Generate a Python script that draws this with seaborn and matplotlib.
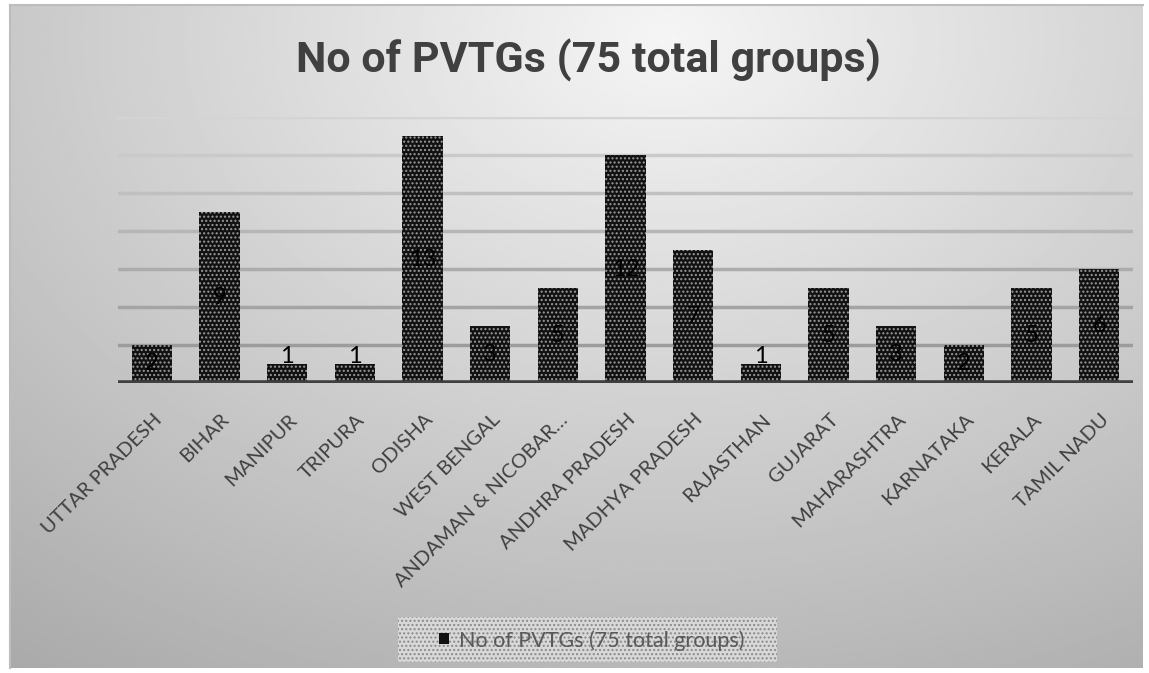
import numpy as np
import pandas as pd
import matplotlib.pyplot as plt
import matplotlib.transforms as mtransforms
import seaborn as sns

# datos
states = ["UTTAR PRADESH", "BIHAR", "MANIPUR", "TRIPURA", "ODISHA", "WEST BENGAL",
          "ANDAMAN & NICOBAR…", "ANDHRA PRADESH", "MADHYA PRADESH", "RAJASTHAN",
          "GUJARAT", "MAHARASHTRA", "KARNATAKA", "KERALA", "TAMIL NADU"]
pvtgs = [2, 9, 1, 1, 13, 3, 5, 12, 7, 1, 5, 3, 2, 5, 6]
series_name = "No of PVTGs (75 total groups)"

df = pd.DataFrame({"state": states, "n": pvtgs})

sns.set_theme(style="white")
plt.rcParams["font.family"] = ["Lato", "DejaVu Sans"]
plt.rcParams["hatch.linewidth"] = 1.0

W, H = 1149, 673
fig = plt.figure(figsize=(W / 100, H / 100), dpi=100)
fig.patch.set_facecolor("white")

# fondo degradado
bg = fig.add_axes([10 / W, 1 - 668 / H, (1143 - 10) / W, (668 - 5) / H])
xx, yy = np.meshgrid(np.linspace(0, 1, 400), np.linspace(0, 1, 250))
dist = np.sqrt(((xx - 0.58) / 1.0) ** 2 + ((yy - 0.05) / 1.2) ** 2)
shade = 0.96 - 0.30 * dist
bg.imshow(shade, cmap="gray", vmin=0, vmax=1, aspect="auto", extent=[0, 1, 1, 0])
bg.set_xticks([])
bg.set_yticks([])
for side, sp in bg.spines.items():
    sp.set_color("#bdbdbd")
    sp.set_linewidth(1.5)
    if side in ("right", "bottom"):
        sp.set_visible(False)
bg.set_zorder(0)

ax = fig.add_axes([118 / W, 1 - 383 / H, (1133 - 118) / W, (383 - 117) / H])
ax.set_zorder(1)
ax.patch.set_alpha(0)

sns.barplot(data=df, x="state", y="n", ax=ax, color="#111111", width=0.6,
            saturation=1, zorder=3)
for p in ax.patches:
    p.set_hatch("....")
    p.set_edgecolor("#9a9a9a")
    p.set_linewidth(0)

ax.set_ylim(0, 14)
ax.set_xlim(-0.5, len(states) - 0.5)
ax.set_yticks([])
grid_cols = {2: "#9c9c9c", 4: "#a4a4a4", 6: "#acacac", 8: "#b6b6b6",
             10: "#c0c0c0", 12: "#cacaca", 14: "#d4d4d4"}
for g, c in grid_cols.items():
    ax.axhline(g, color=c, lw=2.5, zorder=1)
ax.axhline(0, color="#404040", lw=4, zorder=4)
for sp in ax.spines.values():
    sp.set_visible(False)

# etiquetas de valores (negro sobre negro, como en el original)
for i, v in enumerate(pvtgs):
    y = v / 2 if v >= 2 else v + 0.42
    ax.text(i, y, str(v), ha="center", va="center", fontsize=17, color="black", zorder=5)

ax.set_xlabel("")
ax.set_ylabel("")
ax.set_xticks(range(len(states)))
ax.set_xticklabels(states, rotation=45, ha="right", rotation_mode="anchor",
                   fontsize=14.5, color="#404040")
ax.tick_params(axis="x", length=0, pad=20)
shift = mtransforms.ScaledTranslation(1 / 100, 0, fig.dpi_scale_trans)
for lab in ax.get_xticklabels():
    lab.set_transform(lab.get_transform() + shift)

fig.text(588 / W, 1 - 60 / H, series_name, ha="center", va="center",
         fontsize=31, fontweight="bold", color="#404040",
         family=["Roboto", "DejaVu Sans"])

# leyenda con fondo rayado
leg_ax = fig.add_axes([398 / W, 1 - 662 / H, (777 - 398) / W, (662 - 617) / H])
leg_ax.set_zorder(2)
leg_ax.add_patch(plt.Rectangle((0, 0), 1, 1, facecolor="#d8d8d8", hatch="....",
                               edgecolor="#8a8a8a", lw=0, transform=leg_ax.transAxes))
leg_ax.set_xlim(0, 1)
leg_ax.set_ylim(0, 1)
leg_ax.axis("off")
leg_ax.add_patch(plt.Rectangle((0.108, 0.40), 0.026, 0.24, facecolor="#111111",
                               edgecolor="none", lw=0))
leg_ax.text(0.16, 0.48, series_name, ha="left", va="center", fontsize=15.5,
            color="#595959")

fig.savefig("out.png", dpi=100)
